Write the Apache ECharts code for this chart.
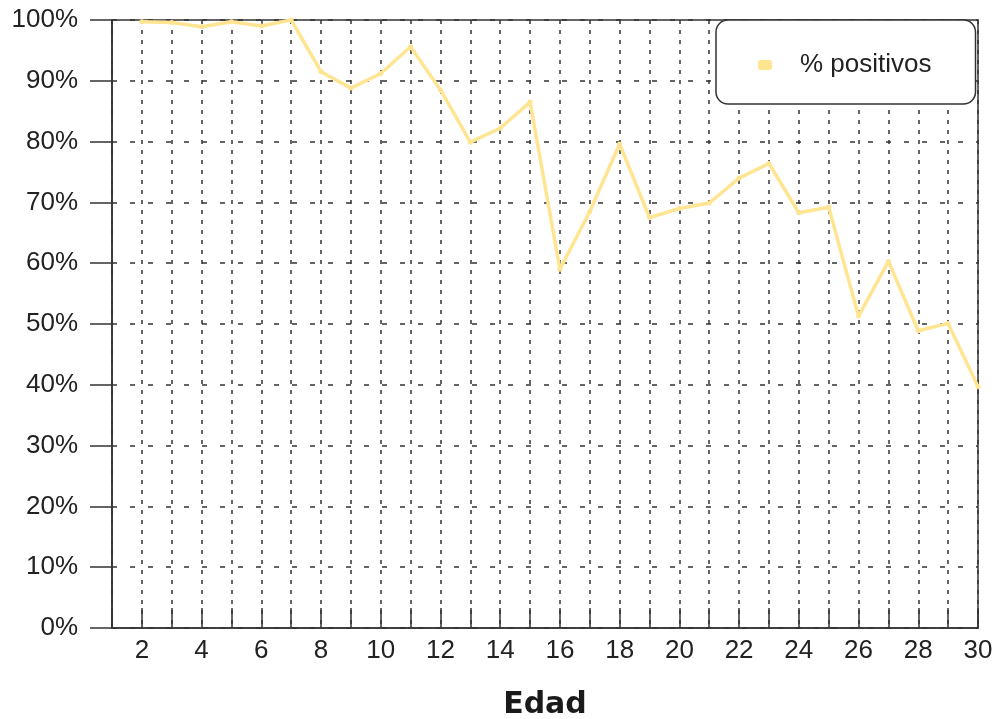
<!DOCTYPE html>
<html>
<head>
<meta charset="utf-8">
<script src="https://cdn.jsdelivr.net/npm/echarts@6/dist/echarts.min.js"></script>
<style>
  html, body { margin: 0; padding: 0; background: #fff; }
  #main { width: 993px; height: 719px; }
</style>
</head>
<body>
<div id="main"></div>
<script>
// edades y porcentaje de positivos
var edades = [2, 3, 4, 5, 6, 7, 8, 9, 10, 11, 12, 13, 14, 15, 16, 17, 18, 19, 20, 21, 22, 23, 24, 25, 26, 27, 28, 29, 30];
var positivos = [99.7, 99.6, 98.9, 99.7, 99, 100, 91.5, 88.8, 91.2, 95.6, 88.5, 79.9, 82.2, 86.5, 59, 68.5, 79.6, 67.5, 69, 69.9, 74, 76.4, 68.3, 69.2, 51.3, 60.3, 48.9, 50.1, 39.7];
var serieNombre = '% positivos';
var ejeX = 'Edad';

var datos = [];
for (var i = 0; i < edades.length; i++) {
	datos.push([edades[i], positivos[i]]);
}

var myChart = echarts.init(document.getElementById('main'));

var fuente = '"Liberation Sans", Arial, sans-serif';
var colorTexto = '#222';
var colorLinea = '#FFE592';

var option = {
	backgroundColor: '#fff',
	animation: false,
	grid: {
		left: 112,
		right: 15,
		top: 20,
		bottom: 91,
		containLabel: false,
		outerBoundsMode: 'none',
		show: true,
		borderColor: '#333',
		borderWidth: 1.5
	},
	legend: {
		data: [serieNombre],
		left: 716,
		top: 20,
		padding: [32, 44, 26, 42],
		backgroundColor: '#fff',
		borderColor: '#333',
		borderWidth: 1.5,
		borderRadius: 12,
		itemWidth: 14,
		itemHeight: 10,
		icon: 'roundRect',
		textStyle: {
			fontFamily: fuente,
			fontSize: 26,
			color: colorTexto,
			padding: [0, 0, 0, 23]
		}
	},
	xAxis: {
		type: 'value',
		min: 1,
		max: 30,
		interval: 1,
		name: ejeX,
		nameLocation: 'middle',
		nameGap: 62,
		nameTextStyle: {
			fontFamily: '"DejaVu Sans", sans-serif',
			fontWeight: 900,
			fontSize: 30,
			color: '#1a1a1a'
		},
		axisLine: { lineStyle: { color: '#333', width: 1.5 } },
		axisTick: { inside: true, length: 20, lineStyle: { color: '#333', width: 1.5 } },
		axisLabel: {
			fontFamily: fuente,
			fontSize: 26,
			color: colorTexto,
			margin: 10,
			formatter: function (v) {
				return v % 2 === 0 ? String(v) : '';
			}
		},
		splitLine: {
			show: true,
			lineStyle: { color: '#333', width: 1.5, type: [4, 6] }
		}
	},
	yAxis: {
		type: 'value',
		min: 0,
		max: 100,
		interval: 10,
		axisLine: { show: true, lineStyle: { color: '#333', width: 1.5 } },
		axisTick: { show: true, inside: false, length: 22, lineStyle: { color: '#333', width: 1.5 } },
		axisLabel: {
			fontFamily: fuente,
			fontSize: 26,
			color: colorTexto,
			margin: 34,
			formatter: '{value}%'
		},
		splitLine: {
			show: true,
			lineStyle: { color: '#333', width: 1.5, type: [5, 13] }
		}
	},
	series: [{
		name: serieNombre,
		type: 'line',
		data: datos,
		symbol: 'circle',
		symbolSize: 5,
		showSymbol: true,
		itemStyle: { color: colorLinea },
		lineStyle: { color: colorLinea, width: 3.5 }
	}]
};

myChart.setOption(option);
</script>
</body>
</html>
